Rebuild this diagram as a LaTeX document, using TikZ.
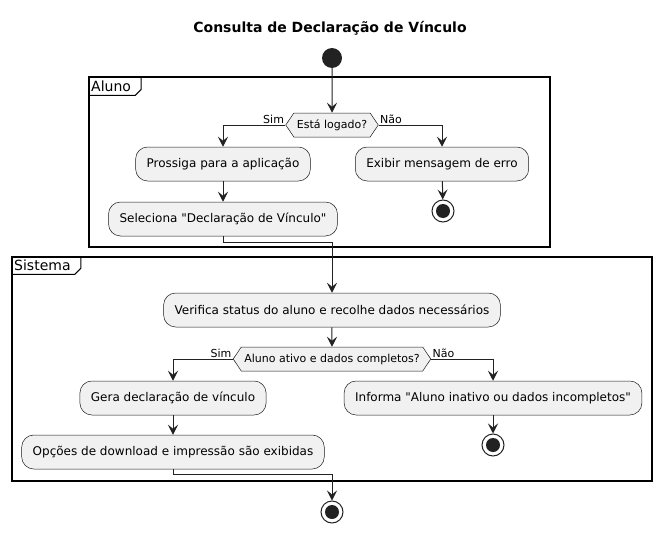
\documentclass[tikz,border=0pt]{standalone}
\usepackage{fontspec}
\setmainfont{DejaVu Sans}[Ligatures=TeXOff]
\usetikzlibrary{calc, positioning, shapes.symbols, arrows.meta}

\definecolor{boxfill}{HTML}{F1F1F1}
\definecolor{boxline}{HTML}{181818}
\definecolor{dot}{HTML}{222222}

\begin{document}
\begin{tikzpicture}[
			x=1pt, y=-1pt,
			acao/.style={rounded corners=12pt, draw=boxline, line width=0.5pt, fill=boxfill, inner xsep=11pt, minimum height=34pt, font=\fontsize{12}{14}\selectfont},
			decisao/.style={signal, signal to=west and east, signal pointer angle=112, draw=boxline, line width=0.5pt, fill=boxfill, inner xsep=3pt, inner ysep=0pt, minimum height=24pt, font=\fontsize{11}{13}\selectfont},
			inicio/.style={circle, fill=dot, minimum size=20pt, inner sep=0pt},
			fim/.style={circle, draw=dot, fill=white, line width=1pt, minimum size=22pt, inner sep=0pt, path picture={\fill[dot] (path picture bounding box.center) circle (7pt);}},
			rotulo/.style={font=\fontsize{11}{13}\selectfont, inner sep=1pt},
			quadro/.style={draw=black, line width=1.5pt},
			aba/.style={anchor=north west, inner xsep=2pt, inner ysep=0pt, minimum height=18pt, font=\fontsize{14}{16}\selectfont},
			seta/.style={-{Stealth[length=10pt, width=10pt, inset=4pt]}, line width=1pt, draw=dot},
			]
			\useasboundingbox (0,0) rectangle (662,533);
			
			% Titel
			\node[font=\bfseries\fontsize{14}{16}\selectfont] (titulo) at (330,28) {Consulta de Declaração de Vínculo};
			
			% Partitionen
			\draw[quadro] (89,77) rectangle (550,247);
			\node[aba] (abaAluno) at (89,77) {Aluno};
			\draw[line width=1pt] (abaAluno.south west) -- ($(abaAluno.south east)+(2,0)$) -- ($(abaAluno.south east)+(8,-6)$) -- ($(abaAluno.north east)+(8,0)$);
			\draw[quadro] (12,257) rectangle (652,481);
			\node[aba, minimum height=17pt] (abaSistema) at (12,257) {Sistema};
			\draw[line width=1pt] (abaSistema.south west) -- ($(abaSistema.south east)+(2,0)$) -- ($(abaSistema.south east)+(8,-6)$) -- ($(abaSistema.north east)+(8,0)$);
			
			% Aluno
			\node[inicio] (Inicio) at (332,58) {};
			\node[decisao] (Logado) at (332,125) {Está logado?};
			\node[acao] (Prossiga) at (223,164) {Prossiga para a aplicação};
			\node[acao] (Seleciona) at (223,219) {Seleciona "Declaração de Vínculo"};
			\node[acao] (Erro) at (442,164) {Exibir mensagem de erro};
			\node[fim] (FimErro) at (443,211) {};
			
			% Sistema
			\node[acao] (Verifica) at (332,310) {Verifica status do aluno e recolhe dados necessários};
			\node[decisao] (Completo) at (332,359) {Aluno ativo e dados completos?};
			\node[acao] (Gera) at (173,398) {Gera declaração de vínculo};
			\node[acao] (Opcoes) at (173,452) {Opções de download e impressão são exibidas};
			\node[acao] (Informa) at (493,398) {Informa "Aluno inativo ou dados incompletos"};
			\node[fim] (FimInforma) at (493,445) {};
			\node[fim] (Fim) at (332,512) {};
			
			% Transitionen
			\draw[seta] (Inicio) -- (Logado);
			\draw[seta] (Logado.west) -| node[rotulo, pos=0, anchor=south east] {Sim} (Prossiga.north);
			\draw[seta] (Logado.east) -| node[rotulo, pos=0, anchor=south west] {Não} (Erro.north);
			\draw[seta] (Prossiga) -- (Seleciona);
			\draw[seta] (Erro) -- (FimErro);
			\draw[seta] (Seleciona.south) -- ++(0,6) -| (Verifica.north);
			\draw[seta] (Verifica) -- (Completo);
			\draw[seta] (Completo.west) -| node[rotulo, pos=0, anchor=south east] {Sim} (Gera.north);
			\draw[seta] (Completo.east) -| node[rotulo, pos=0, anchor=south west] {Não} (Informa.north);
			\draw[seta] (Gera) -- (Opcoes);
			\draw[seta] (Informa) -- (FimInforma);
			\draw[seta] (Opcoes.south) -- ++(0,5) -| (Fim.north);
			
		\end{tikzpicture}
\end{document}
